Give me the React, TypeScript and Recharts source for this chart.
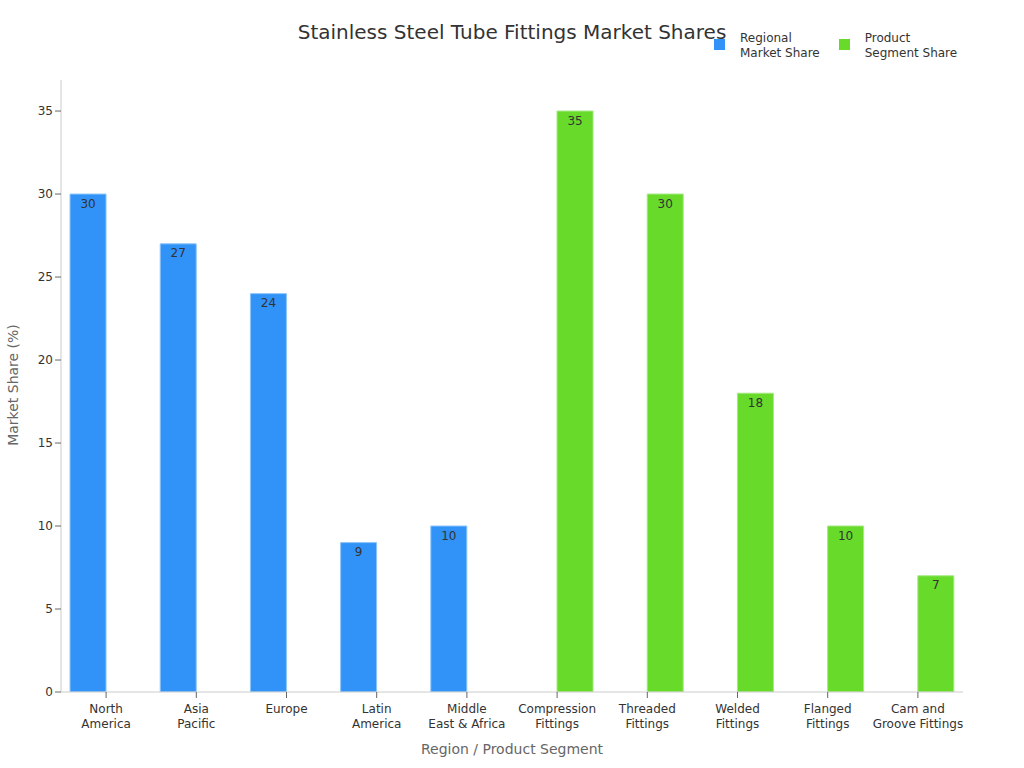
import { BarChart, Bar, XAxis, YAxis, LabelList } from 'recharts'

const categories = [
  'North\nAmerica', 'Asia\nPacific', 'Europe', 'Latin\nAmerica', 'Middle\nEast & Africa',
  'Compression\nFittings', 'Threaded\nFittings', 'Welded\nFittings', 'Flanged\nFittings', 'Cam and\nGroove Fittings',
]
const regional = [30, 27, 24, 9, 10, null, null, null, null, null]
const product = [null, null, null, null, null, 35, 30, 18, 10, 7]
const yTicks = [0, 5, 10, 15, 20, 25, 30, 35]

const data = categories.map((name, i) => ({ name, regional: regional[i], product: product[i] }))

const FONT = '"DejaVu Sans", sans-serif'
const BLUE = '#3192f7'
const GREEN = '#67da2a'

/* two-line category ticks */
const CatTick = (props: any) => {
  const { x, y, payload } = props
  const lines = String(payload.value).split('\n')
  return (
    <g transform={`translate(${x},${y})`}>
      {lines.map((l, i) => (
        <text key={i} x={0} y={0} dy={13 + i * 15} textAnchor="middle" fill="#333" fontSize={12} fontFamily={FONT}>
          {l}
        </text>
      ))}
    </g>
  )
}

const fmt = (v: any) => (v == null ? '' : v)

const legendItems = [
  { c: BLUE, t: ['Regional', 'Market Share'] },
  { c: GREEN, t: ['Product', 'Segment Share'] },
]

export default function App() {
  return (
    <div style={{ position: 'absolute', left: 0, top: 0, width: 1024, height: 768, background: '#fff' }}>
      <div style={{ position: 'absolute', top: 20, left: 0, width: 1024, textAlign: 'center', fontFamily: FONT, fontSize: 20, color: '#333' }}>
        Stainless Steel Tube Fittings Market Shares
      </div>
      <div style={{ position: 'absolute', left: 714, top: 31, display: 'flex', gap: 19, fontFamily: FONT, fontSize: 12, color: '#333', lineHeight: '15px' }}>
        {legendItems.map((it) => (
          <div key={it.t[0]} style={{ display: 'flex', alignItems: 'flex-start' }}>
            <span style={{ display: 'inline-block', width: 11, height: 11, background: it.c, marginTop: 8, marginRight: 15 }} />
            <span>{it.t[0]}<br />{it.t[1]}</span>
          </div>
        ))}
      </div>
      <div style={{ position: 'absolute', left: 13, top: 385, transform: 'translate(-50%,-50%) rotate(-90deg)', fontFamily: FONT, fontSize: 14, color: '#666', whiteSpace: 'nowrap' }}>
        Market Share (%)
      </div>
      <div style={{ position: 'absolute', top: 741, left: 0, width: 1024, textAlign: 'center', fontFamily: FONT, fontSize: 14, color: '#666' }}>
        Region / Product Segment
      </div>
      <BarChart width={1024} height={768} data={data} margin={{ top: 80, right: 61, bottom: 6, left: 0 }}
        barGap={0} barCategoryGap="10%">
        <XAxis dataKey="name" interval={0} tick={<CatTick />} height={70}
          axisLine={{ stroke: '#ccc' }} tickLine={{ stroke: '#666' }} />
        <YAxis width={61} domain={[0, 36.87]} ticks={yTicks} allowDataOverflow
          tick={{ fontSize: 12, fill: '#333', fontFamily: FONT }}
          axisLine={{ stroke: '#ccc' }} tickLine={{ stroke: '#666' }} />
        <Bar dataKey="regional" fill={BLUE} stroke="#8cc5fb" strokeWidth={1} isAnimationActive={false}>
          <LabelList dataKey="regional" position="insideTop" offset={5} formatter={fmt}
            style={{ fontSize: 12, fill: '#333', fontFamily: FONT }} />
        </Bar>
        <Bar dataKey="product" fill={GREEN} stroke="#a6e883" strokeWidth={1} isAnimationActive={false}>
          <LabelList dataKey="product" position="insideTop" offset={5} formatter={fmt}
            style={{ fontSize: 12, fill: '#333', fontFamily: FONT }} />
        </Bar>
      </BarChart>
    </div>
  )
}
